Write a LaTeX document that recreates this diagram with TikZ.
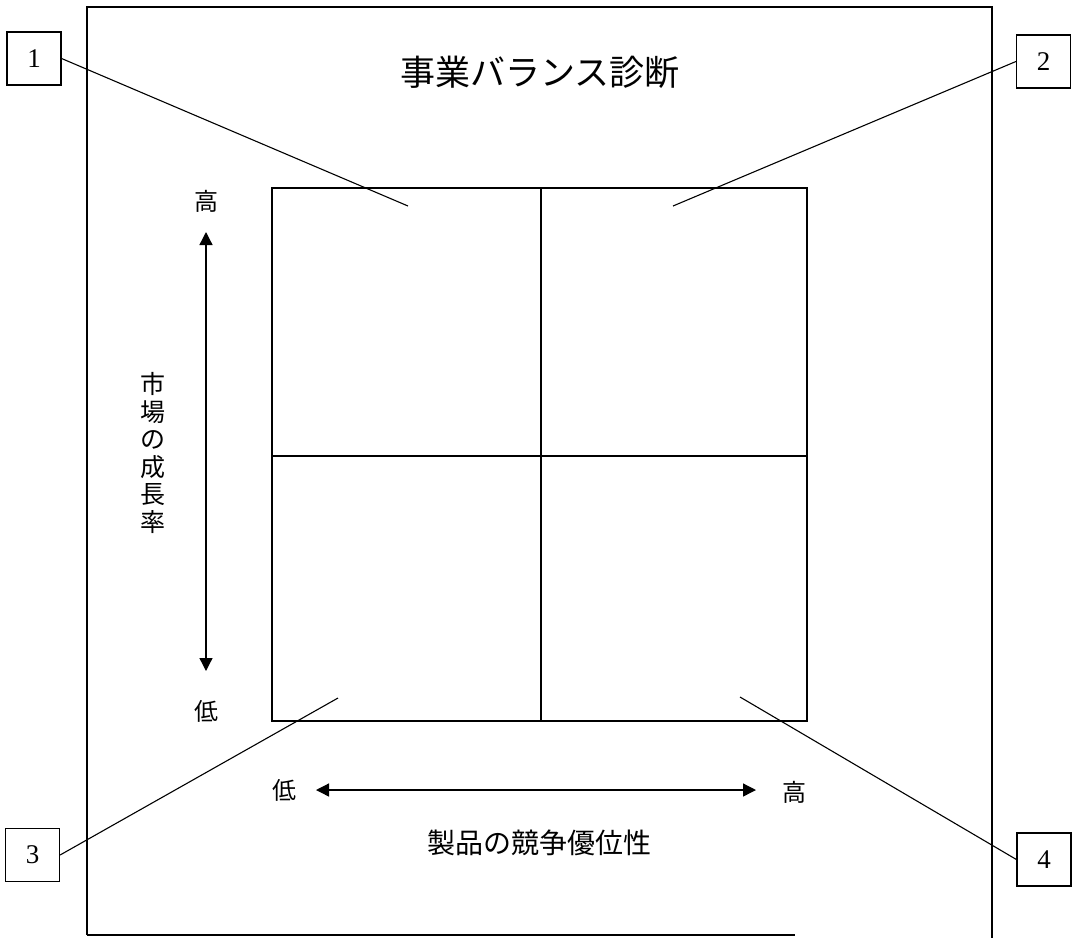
\documentclass[tikz,border=0pt]{standalone}
\usepackage{fontspec}
\newfontfamily\jp{Noto Sans CJK JP}
\newfontfamily\numf{Liberation Serif}
\usetikzlibrary{arrows.meta}
\begin{document}
\begin{tikzpicture}[x=1pt,y=-1pt,line width=1.2pt,
  numbox/.style={draw,minimum width=54pt,minimum height=53pt,inner sep=0pt,font=\numf\fontsize{27}{27}\selectfont},
  jlab/.style={inner sep=0pt,font=\jp\fontsize{24}{24}\selectfont},
  conn/.style={line width=1.1pt},
  dbl/.style={line width=1.3pt,{Triangle[length=13pt,width=13pt]}-{Triangle[length=13pt,width=13pt]}}]
\useasboundingbox (0,0) rectangle (1074,938);
% outer frame
\draw (87,935) -- (87,7) -- (992,7) -- (992,938);
\draw (87,935) -- (795,935);
% title
\node[inner sep=0pt,font=\jp\fontsize{35}{35}\selectfont] (title) at (540,72) {事業バランス診断};
% grid
\draw (272,188) rectangle (807,721);
\draw (541,188) -- (541,721);
\draw (272,456) -- (807,456);
% number boxes
\node[numbox] (b1) at (34,58.5) {1};
\node[numbox] (b2) at (1043.5,61.5) {2};
\node[numbox] (b3) at (32.5,855) {3};
\node[numbox] (b4) at (1044,859.5) {4};
\coordinate (p1) at (408,206);
\coordinate (p2) at (673,206);
\coordinate (p3) at (338,698);
\coordinate (p4) at (740,697);
\draw[conn] (b1.east) -- (p1);
\draw[conn] (b2.west) -- (p2);
\draw[conn] (b3.east) -- (p3);
\draw[conn] (b4.west) -- (p4);
% vertical axis
\node[jlab] (vhi) at (206,201) {高};
\node[jlab] (vlo) at (206,711) {低};
\coordinate (vt) at (206,232);
\coordinate (vb) at (206,671);
\draw[dbl] (vb) -- (vt);
\node[jlab,align=center,font=\jp\fontsize{25}{27.5}\selectfont] (vname) at (153,453) {市\\場\\の\\成\\長\\率};
% horizontal axis
\node[jlab] (hlo) at (284,790) {低};
\node[jlab] (hhi) at (794,792) {高};
\coordinate (hl) at (316,790);
\coordinate (hr) at (756,790);
\draw[dbl] (hl) -- (hr);
\node[inner sep=0pt,font=\jp\fontsize{28}{28}\selectfont] (hname) at (539,843) {製品の競争優位性};
\end{tikzpicture}
\end{document}
